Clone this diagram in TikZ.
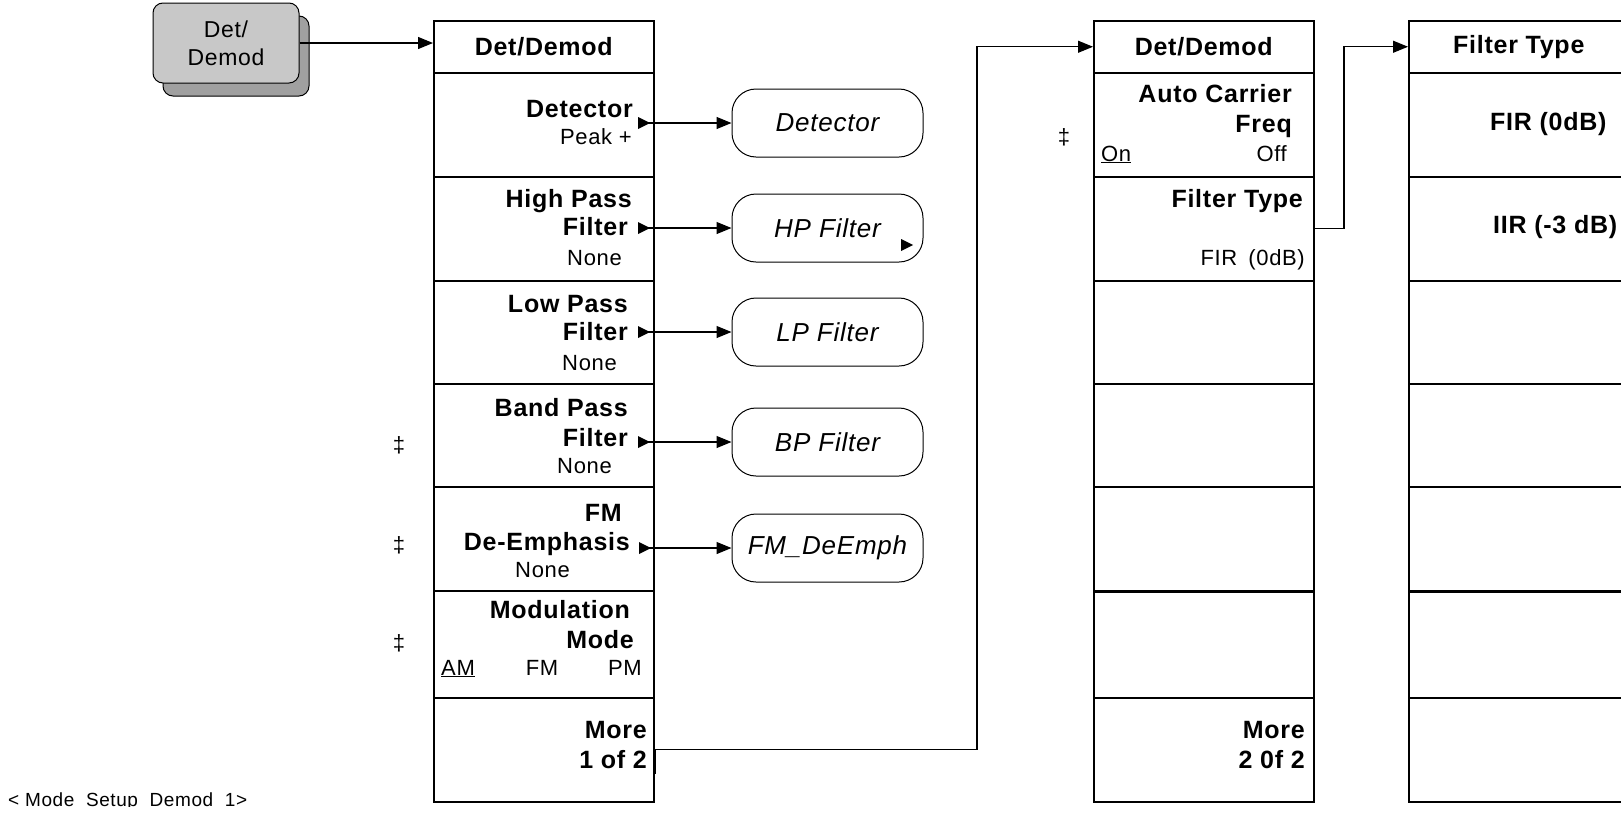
\documentclass[tikz,border=0pt]{standalone}
\usepackage{fontspec}
\setmainfont[LetterSpace=3]{Liberation Sans}
\usetikzlibrary{arrows.meta,calc,shadows}
\definecolor{keyface}{RGB}{200,200,200}
\definecolor{keyshade}{RGB}{160,160,160}
\newcommand{\subtip}[1]{\fill (#1) ++(0,-6) -- ++(12,6) -- ++(-12,6) -- cycle;}

\begin{document}
\begin{tikzpicture}[x=1pt,y=-1pt,
    conn/.style={line width=1.2pt,-{Triangle[length=15pt,width=12pt]}},
    softkey/.style={draw,line width=1.5pt,minimum width=220pt,anchor=north west,inner sep=0pt},
    hardkey/.style={draw,line width=1pt,fill=keyface,rounded corners=10pt,minimum width=146pt,
        minimum height=80pt,align=center,font=\fontsize{23}{28}\selectfont,
        drop shadow={shadow xshift=10pt,shadow yshift=-13pt,fill=keyshade,draw=black,opacity=1}},
    menuoval/.style={draw,line width=1pt,rounded corners=24pt,minimum width=191pt,minimum height=68pt,
        inner sep=0pt,font=\fontsize{26}{30}\selectfont\itshape},
    lblhead/.style={inner sep=0pt,font=\fontsize{25}{28}\selectfont\bfseries},
    lblbold/.style={lblhead,anchor=base east},
    lblnorm/.style={inner sep=0pt,anchor=base east,font=\fontsize{22}{26}\selectfont}]
    \useasboundingbox (0,0) rectangle (1621,817);

    \node[hardkey] (kDet) at (226,43) {Det/\\Demod};

    \foreach \m/\x in {1/433,2/1093,3/1408}{
        \foreach \r/\ytop/\hgt in {h/20/52,a/72/104,b/176/104,c/280/103,d/383/103,e/486/104,f/590/107,g/697/104}
            \node[softkey,minimum height=\hgt*1pt] (m\m\r) at (\x,\ytop) {};
    }
    \draw[line width=3pt] (m2e.south west) -- (m2e.south east);
    \draw[line width=3pt] (m3e.south west) -- (m3e.south east);

    \node[lblhead] (t1) at (m1h) {Det/Demod};
    \node[lblhead] (t2) at (m2h) {Det/Demod};
    \node[lblhead] (t3) at (m3h) {Filter Type};

    \draw[conn] (kDet.east) -- (kDet.east -| m1h.west);

    \node[lblbold] (l1a) at (633,117) {Detector};
    \node[lblnorm] (v1a) at (632,144) {Peak +};
    \node[lblbold] (l1b) at (632,207) {High Pass};
    \node[lblbold] (f1b) at (628,235) {Filter};
    \node[lblnorm] (v1b) at (622,265) {None};
    \node[lblbold] (l1c) at (628,312) {Low Pass};
    \node[lblbold] (f1c) at (628,340) {Filter};
    \node[lblnorm] (v1c) at (617,370) {None};
    \node[lblbold] (l1d) at (628,416) {Band Pass};
    \node[lblbold] (f1d) at (628,446) {Filter};
    \node[lblnorm] (v1d) at (612,473) {None};
    \node[lblbold] (l1e) at (622,521) {FM};
    \node[lblbold] (f1e) at (630,550) {De-Emphasis};
    \node[lblnorm] (v1e) at (570,577) {None};
    \node[lblbold] (l1f) at (630,618) {Modulation};
    \node[lblbold] (f1f) at (634,648) {Mode};
    \node[lblnorm,anchor=base west] (am1f) at (441,675) {\underline{AM}};
    \node[lblnorm,anchor=base] (fm1f) at (542,675) {FM};
    \node[lblnorm] (pm1f) at (642,675) {PM};
    \node[lblbold] (l1g) at (647,738) {More};
    \node[lblbold] (f1g) at (647,768) {1 of 2};

    \node[lblnorm,anchor=center] (dg1d) at (399,445) {‡};
    \node[lblnorm,anchor=center] (dg1e) at (399,545) {‡};
    \node[lblnorm,anchor=center] (dg1f) at (399,643) {‡};
    \node[lblnorm,anchor=center] (dg2a) at (1064,137) {‡};

    \coordinate (s1a) at (638,123);
    \coordinate (s1b) at (638,228);
    \coordinate (s1c) at (638,332);
    \coordinate (s1d) at (638,442);
    \coordinate (s1e) at (639,548);
    \subtip{s1a} \subtip{s1b} \subtip{s1c} \subtip{s1d} \subtip{s1e}

    \node[menuoval] (oDet) at (827.5,123) {Detector};
    \node[menuoval] (oHP) at (827.5,228) {HP Filter};
    \node[menuoval] (oLP) at (827.5,332) {LP Filter};
    \node[menuoval] (oBP) at (827.5,442) {BP Filter};
    \node[menuoval] (oFM) at (827.5,548) {FM\_DeEmph};
    \coordinate (hpMore) at (901,245);
    \subtip{hpMore}

    \draw[conn] (s1a) -- (oDet.west);
    \draw[conn] (s1b) -- (oHP.west);
    \draw[conn] (s1c) -- (oLP.west);
    \draw[conn] (s1d) -- (oBP.west);
    \draw[conn] (s1e) -- (oFM.west);

    \draw[conn] (m1g.east) -| ([xshift=-116pt]m2h.west) -- (m2h.west);
    \draw[line width=2.5pt] (m1g.east) -- ++(0,24);

    \node[lblbold] (l2a) at (1292,102) {Auto Carrier};
    \node[lblbold] (f2a) at (1292,132) {Freq};
    \node[lblnorm,anchor=base west] (on2a) at (1101,161) {\underline{On}};
    \node[lblnorm] (off2a) at (1287,161) {Off};
    \node[lblbold] (l2b) at (1303,207) {Filter Type};
    \node[lblnorm] (v2b) at (1305,265) {FIR\enspace(0dB)};
    \node[lblbold] (l2g) at (1305,738) {More};
    \node[lblbold] (f2g) at (1305,768) {2 0f 2};

    \draw[conn] (m2b.east) -| ([xshift=-64pt]m3h.west) -- (m3h.west);

    \node[lblhead,anchor=base west] (l3a) at (1490,130) {FIR (0dB)};
    \node[lblhead,anchor=base west] (l3b) at (1493,233) {IIR (-3 dB)};

    \begin{scope}
        \clip (0,780) rectangle (400,806);
        \node[lblnorm,anchor=base west,font=\fontsize{19}{22}\selectfont] (foot) at (8,806) {< Mode\_Setup\_Demod\_1>};
    \end{scope}
\end{tikzpicture}
\end{document}
